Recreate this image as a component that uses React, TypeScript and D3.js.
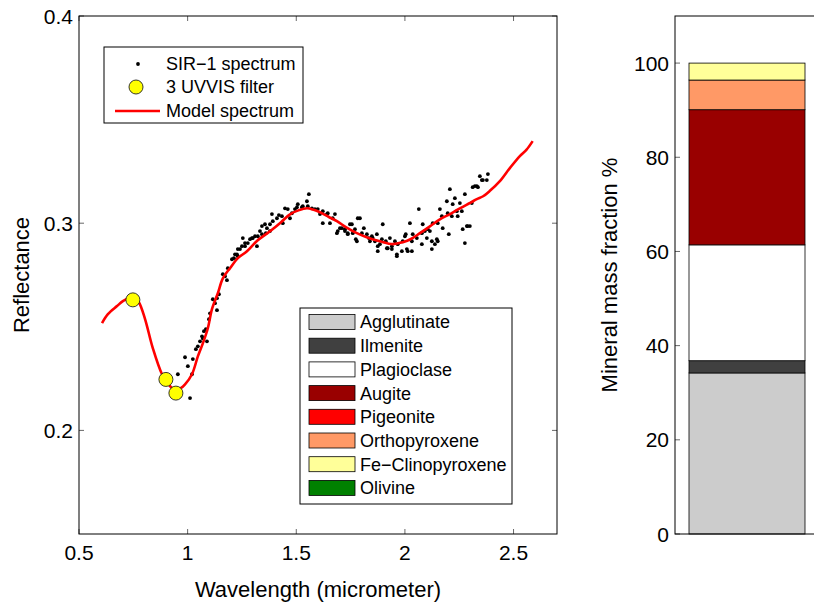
import React from 'react';
import * as d3 from 'd3';

const FONT = '"Liberation Sans", Arial, Helvetica, sans-serif';

const xTicks = [0.5, 1, 1.5, 2, 2.5];
const yTicks = [0.2, 0.3, 0.4];
const barTicks = [0, 20, 40, 60, 80, 100];

const sirSpectrum: [number, number][] = [
  [0.988, 0.2353], [0.955, 0.2271], [1.011, 0.2156], [1.001, 0.231], [1.024, 0.2344], [1.02, 0.2271],
  [1.038, 0.2392], [1.047, 0.2406], [1.057, 0.243], [1.066, 0.2454], [1.075, 0.2479], [1.084, 0.2489],
  [1.07, 0.2444], [1.089, 0.243], [1.103, 0.2565], [1.098, 0.2537], [1.135, 0.258], [1.116, 0.2633],
  [1.135, 0.2638], [1.144, 0.2657], [1.126, 0.2614], [1.162, 0.2754], [1.181, 0.2725], [1.172, 0.2744],
  [1.185, 0.2783], [1.204, 0.2826], [1.213, 0.2831], [1.227, 0.285], [1.241, 0.2875], [1.231, 0.2841],
  [1.254, 0.2928], [1.264, 0.2889], [1.277, 0.2904], [1.287, 0.2923], [1.3, 0.2928], [1.319, 0.2889],
  [1.323, 0.2937], [1.342, 0.2947], [1.36, 0.2952],
  [1.218, 0.285], [1.231, 0.2875], [1.25, 0.2889], [1.264, 0.2904], [1.296, 0.2928], [1.31, 0.2937],
  [1.333, 0.2962], [1.342, 0.2986], [1.356, 0.2995], [1.365, 0.2976], [1.379, 0.2962], [1.379, 0.2995],
  [1.392, 0.301], [1.388, 0.3044], [1.411, 0.3024], [1.42, 0.3039], [1.434, 0.3034], [1.438, 0.3],
  [1.448, 0.3072], [1.461, 0.3068], [1.471, 0.3024], [1.48, 0.3048], [1.494, 0.3068], [1.503, 0.3077],
  [1.507, 0.3092], [1.526, 0.3077], [1.53, 0.3082], [1.549, 0.3106], [1.558, 0.314], [1.553, 0.3082],
  [1.572, 0.3072], [1.586, 0.3068], [1.599, 0.3068], [1.609, 0.3044], [1.622, 0.3], [1.641, 0.3044],
  [1.655, 0.3], [1.668, 0.3024], [1.678, 0.3044], [1.691, 0.2962], [1.701, 0.2976], [1.724, 0.2971],
  [1.737, 0.2952], [1.747, 0.2995], [1.76, 0.2952], [1.774, 0.2923], [1.783, 0.3024],
  [1.71, 0.2976], [1.724, 0.2962], [1.737, 0.2947], [1.756, 0.2995], [1.77, 0.2971], [1.779, 0.2913],
  [1.793, 0.3024], [1.802, 0.2952], [1.811, 0.2976], [1.825, 0.2947], [1.834, 0.2928], [1.848, 0.2937],
  [1.862, 0.2913], [1.871, 0.2947], [1.875, 0.2889], [1.894, 0.2923], [1.898, 0.2995], [1.912, 0.2913],
  [1.921, 0.2879], [1.931, 0.2928], [1.94, 0.2889], [1.954, 0.2913], [1.963, 0.285], [1.967, 0.2899],
  [1.986, 0.2865], [1.99, 0.2913], [2.004, 0.2947], [2.013, 0.2865], [2.023, 0.3], [2.032, 0.2913],
  [2.036, 0.2947], [2.055, 0.2928], [2.064, 0.3068], [2.078, 0.2899], [2.082, 0.2995], [2.092, 0.2962],
  [2.101, 0.2928],
  [1.622, 0.3058], [1.645, 0.3048], [1.687, 0.2952], [1.839, 0.2913], [1.852, 0.2928], [1.875, 0.2865],
  [1.885, 0.2899], [1.917, 0.2879], [1.94, 0.2875], [1.963, 0.2841], [2.0, 0.2937], [2.009, 0.2875],
  [2.032, 0.2865], [2.078, 0.2952], [2.115, 0.2962], [2.124, 0.2875], [2.138, 0.2899], [2.147, 0.2923],
  [2.151, 0.3], [2.161, 0.3068], [2.17, 0.3034], [2.174, 0.2976], [2.193, 0.3106], [2.197, 0.3048],
  [2.207, 0.3164], [2.216, 0.3034], [2.22, 0.3092], [2.23, 0.3121], [2.243, 0.3034], [2.253, 0.3097],
  [2.262, 0.3058], [2.266, 0.2971], [2.276, 0.314], [2.285, 0.2986], [2.289, 0.2986], [2.276, 0.2904],
  [2.312, 0.3174], [2.331, 0.3179], [2.345, 0.3227], [2.359, 0.3208], [2.382, 0.3237],
  [2.105, 0.2971], [2.124, 0.2913], [2.128, 0.3], [2.151, 0.2913], [2.202, 0.2947], [2.239, 0.3058],
  [2.299, 0.2986], [2.308, 0.3097], [2.322, 0.3179], [2.336, 0.3174], [2.354, 0.3208], [2.377, 0.3208],
];

const modelSpectrum: [number, number][] = [
  [0.606, 0.2518], [0.633, 0.2561], [0.675, 0.26], [0.702, 0.2624], [0.735, 0.264], [0.755, 0.264],
  [0.775, 0.262], [0.803, 0.2541], [0.84, 0.2396], [0.882, 0.2271], [0.91, 0.2225], [0.93, 0.2203],
  [0.951, 0.2198], [0.97, 0.2205], [0.988, 0.2222], [1.02, 0.2271], [1.047, 0.2357], [1.07, 0.242],
  [1.093, 0.2493], [1.112, 0.2585], [1.139, 0.2662], [1.162, 0.2734], [1.195, 0.2783], [1.23, 0.283],
  [1.273, 0.2865], [1.32, 0.2915], [1.379, 0.2961], [1.43, 0.3005], [1.471, 0.3043], [1.51, 0.3062],
  [1.549, 0.3072], [1.58, 0.3065], [1.609, 0.3053], [1.65, 0.303], [1.687, 0.301], [1.73, 0.298],
  [1.779, 0.2952], [1.83, 0.293], [1.885, 0.2913], [1.944, 0.2899], [1.99, 0.2908], [2.03, 0.2925],
  [2.069, 0.2952], [2.115, 0.2985], [2.161, 0.3019], [2.21, 0.3045], [2.253, 0.3072], [2.3, 0.3098],
  [2.331, 0.3116], [2.36, 0.313], [2.39, 0.3155], [2.437, 0.3203], [2.483, 0.3266], [2.529, 0.3324],
  [2.56, 0.3355], [2.588, 0.3396],
];

const uvvisFilter: [number, number][] = [[0.748, 0.263], [0.9, 0.2246], [0.946, 0.218]];

const minerals = ['Agglutinate', 'Ilmenite', 'Plagioclase', 'Augite', 'Pigeonite', 'Orthopyroxene', 'Fe\u2212Clinopyroxene', 'Olivine'];
const mineralFractions = [34.2, 2.6, 24.6, 28.7, 0, 6.3, 3.6, 0];
const mineralColors = ['#cccccc', '#404040', '#ffffff', '#990000', '#ff0000', '#ff9966', '#ffff99', '#008000'];

const spectrumLegend = ['SIR\u22121 spectrum', '3 UVVIS filter', 'Model spectrum'];

export default function App() {
  const W = 814, H = 605;
  const L = { left: 79, right: 557, top: 16, bottom: 534 };
  const x = d3.scaleLinear().domain([0.5, 2.7]).range([L.left, L.right]);
  const y = d3.scaleLinear().domain([0.15, 0.4]).range([L.bottom, L.top]);
  const line = d3.line<[number, number]>().x(d => x(d[0])).y(d => y(d[1])).curve(d3.curveCatmullRom.alpha(0.5));

  const R = { left: 675, right: 835, top: 16, bottom: 534 };
  const yb = d3.scaleLinear().domain([0, 110]).range([R.bottom, R.top]);
  const barX0 = 689, barX1 = 805;
  const cum = d3.cumsum(mineralFractions);
  const starts = mineralFractions.map((v, i) => cum[i] - v);

  const tickFs = 21;
  const labelFs = 22;
  const legFs = 18;
  const tl = 5;

  return (
    <svg width={W} height={H} style={{ position: 'absolute', left: 0, top: 0, background: '#fff' }} fontFamily={FONT}>
      <rect x={0} y={0} width={W} height={H} fill="#fff" />
      <rect x={L.left} y={L.top} width={L.right - L.left} height={L.bottom - L.top} fill="#fff" />
      <g>
        {sirSpectrum.map((d, i) => (
          <circle key={i} cx={x(d[0])} cy={y(d[1])} r={1.9} fill="#000" />
        ))}
        <path d={line(modelSpectrum) || ''} fill="none" stroke="#ff0000" strokeWidth={2.6} strokeLinejoin="round" />
        {uvvisFilter.map((d, i) => (
          <circle key={i} cx={x(d[0])} cy={y(d[1])} r={7} fill="#ffff00" stroke="#222" strokeWidth={0.9} />
        ))}
      </g>
      {xTicks.map(t => (
        <g key={'xt' + t}>
          <line x1={x(t)} x2={x(t)} y1={L.bottom} y2={L.bottom - tl} stroke="#000" strokeWidth={0.6} />
          <line x1={x(t)} x2={x(t)} y1={L.top} y2={L.top + tl} stroke="#000" strokeWidth={0.6} />
          <text x={x(t)} y={L.bottom + 26} fontSize={tickFs} textAnchor="middle">{t}</text>
        </g>
      ))}
      {yTicks.map(t => (
        <g key={'yt' + t}>
          <line x1={L.left} x2={L.left + tl} y1={y(t)} y2={y(t)} stroke="#000" strokeWidth={0.6} />
          <line x1={L.right} x2={L.right - tl} y1={y(t)} y2={y(t)} stroke="#000" strokeWidth={0.6} />
          <text x={L.left - 6} y={y(t)} dy="0.36em" fontSize={tickFs} textAnchor="end">{t.toFixed(1)}</text>
        </g>
      ))}
      <rect x={L.left} y={L.top} width={L.right - L.left} height={L.bottom - L.top} fill="none" stroke="#000" strokeWidth={1} />
      <text x={(L.left + L.right) / 2} y={597} fontSize={labelFs} textAnchor="middle">Wavelength (micrometer)</text>
      <text transform={`translate(29,${(L.top + L.bottom) / 2}) rotate(-90)`} fontSize={labelFs} textAnchor="middle">Reflectance</text>

      <g>
        <rect x={104} y={47} width={199} height={76} fill="#fff" stroke="#000" strokeWidth={1} />
        <circle cx={138} cy={64} r={1.9} fill="#000" />
        <circle cx={136} cy={87} r={7} fill="#ffff00" stroke="#222" strokeWidth={0.9} />
        <line x1={115} x2={160} y1={111} y2={111} stroke="#ff0000" strokeWidth={2.6} />
        {spectrumLegend.map((s, i) => (
          <text key={s} x={166} y={[64, 87, 111][i]} dy="0.36em" fontSize={legFs}>{s}</text>
        ))}
      </g>

      <g>
        <rect x={300} y={308} width={212} height={196} fill="#fff" stroke="#000" strokeWidth={1} />
        {minerals.map((m, i) => {
          const cy = 322 + i * 23.7;
          return (
            <g key={m}>
              <rect x={309} y={cy - 7.5} width={46} height={15} fill={mineralColors[i]} stroke="#000" strokeWidth={0.8} />
              <text x={360} y={cy} dy="0.36em" fontSize={legFs}>{m}</text>
            </g>
          );
        })}
      </g>

      <g>
        {mineralFractions.map((v, i) => v > 0 ? (
          <rect key={i} x={barX0} width={barX1 - barX0} y={yb(cum[i])} height={yb(starts[i]) - yb(cum[i])}
            fill={mineralColors[i]} stroke="#000" strokeWidth={0.8} />
        ) : null)}
        {barTicks.map(t => (
          <g key={'bt' + t}>
            <line x1={R.left} x2={R.left + tl} y1={yb(t)} y2={yb(t)} stroke="#000" strokeWidth={0.6} />
            <text x={R.left - 6} y={yb(t)} dy="0.36em" fontSize={tickFs} textAnchor="end">{t}</text>
          </g>
        ))}
        <rect x={R.left} y={R.top} width={R.right - R.left} height={R.bottom - R.top} fill="none" stroke="#000" strokeWidth={1} />
        <text transform={`translate(617,${(R.top + R.bottom) / 2}) rotate(-90)`} fontSize={labelFs} textAnchor="middle">Mineral mass fraction %</text>
      </g>
    </svg>
  );
}
